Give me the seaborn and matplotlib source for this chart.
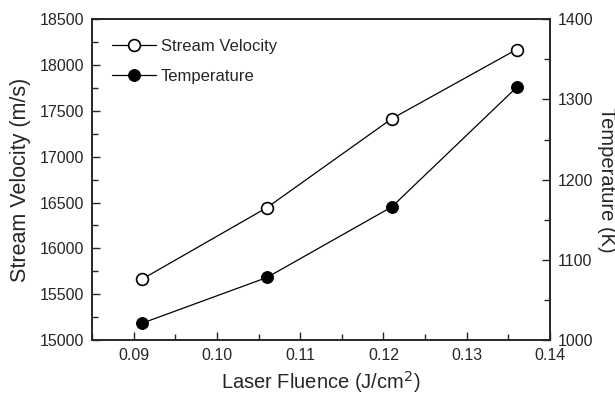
import numpy as np
import matplotlib.pyplot as plt
import seaborn as sns

sns.set_style("ticks")
plt.rcParams['font.family'] = ['Liberation Sans', 'DejaVu Sans']

# data
fluence = [0.091, 0.106, 0.121, 0.136]
velocity = [15665, 16445, 17415, 18170]
temperature = [1021, 1078, 1166, 1315]

fig = plt.figure(figsize=(6.15, 3.94), dpi=100)
ax = fig.add_axes([0.150, 0.137, 0.744, 0.814])
ax2 = ax.twinx()

sns.lineplot(x=fluence, y=velocity, ax=ax, color='black', lw=0.9,
             marker='o', markersize=8.5, markerfacecolor='white',
             markeredgecolor='black', markeredgewidth=1.2, label='Stream Velocity', legend=False)
sns.lineplot(x=fluence, y=temperature, ax=ax2, color='black', lw=0.9,
             marker='o', markersize=8.5, markerfacecolor='black',
             markeredgecolor='black', label='Temperature', legend=False)

ax.set_xlim(0.085, 0.14)
ax.set_ylim(15000, 18500)
ax2.set_ylim(1000, 1400)
ax.set_xticks(np.arange(0.09, 0.1401, 0.01))
ax.set_xticks(np.arange(0.085, 0.1401, 0.005), minor=True)
ax.set_xticklabels(["0.09", "0.10", "0.11", "0.12", "0.13", "0.14"])
ax.set_yticks(np.arange(15000, 18501, 500))
ax.set_yticks(np.arange(15000, 18501, 250), minor=True)
ax2.set_yticks(np.arange(1000, 1401, 100))
ax2.set_yticks(np.arange(1000, 1401, 50), minor=True)

for a in (ax, ax2):
    a.tick_params(which='major', direction='in', length=6, width=1, labelsize=11.5, pad=6)
    a.tick_params(which='minor', direction='in', length=4, width=1)
    for s in a.spines.values():
        s.set_linewidth(1.2)

ax.set_xlabel("Laser Fluence (J/cm$^2$)", fontsize=14.5, labelpad=4)
ax.set_ylabel("Stream Velocity (m/s)", fontsize=15.5, labelpad=6)
ax2.set_ylabel("Temperature (K)", fontsize=14.5, rotation=270, labelpad=16)

h1, l1 = ax.get_legend_handles_labels()
h2, l2 = ax2.get_legend_handles_labels()
ax2.legend(h1 + h2, l1 + l2, loc='upper left', frameon=False, fontsize=12,
           handlelength=2.6, handletextpad=0.3, labelspacing=0.9,
           bbox_to_anchor=(0.0, 1.0), borderaxespad=0.8)

fig.savefig("out.png", dpi=100)
